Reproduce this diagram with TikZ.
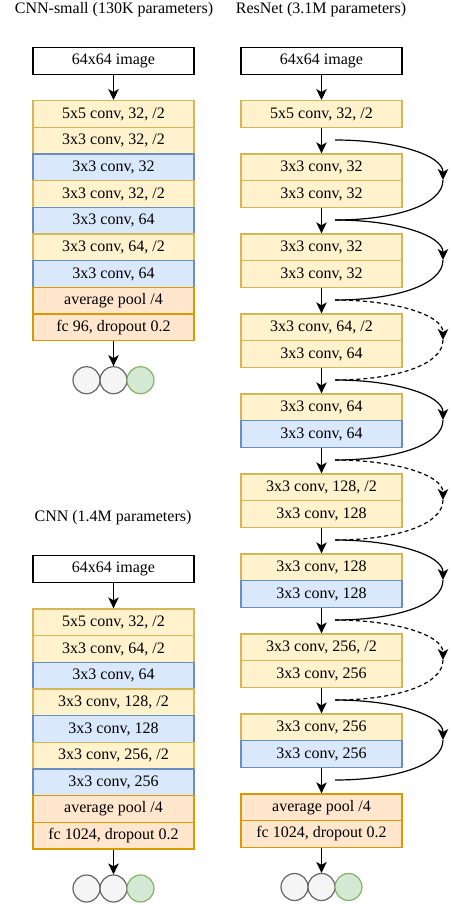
\documentclass[tikz,border=0pt]{standalone}
\usepackage{fontspec}
\setmainfont{Liberation Serif}
\usetikzlibrary{arrows.meta}
\definecolor{yfill}{HTML}{FFF2CC}\definecolor{ydraw}{HTML}{D6B656}
\definecolor{bfill}{HTML}{DAE8FC}\definecolor{bdraw}{HTML}{6C8EBF}
\definecolor{ofill}{HTML}{FFE6CC}\definecolor{odraw}{HTML}{D79B00}
\definecolor{gfill}{HTML}{F5F5F5}\definecolor{gdraw}{HTML}{666666}
\definecolor{grfill}{HTML}{D5E8D4}\definecolor{grdraw}{HTML}{82B366}
\tikzset{
  layer/.style={draw, line width=1.2pt, minimum width=161pt, minimum height=26.667pt,
    inner sep=0pt, anchor=north, font=\fontsize{16}{19}\selectfont},
  ybox/.style={layer, fill=yfill, draw=ydraw},
  bbox/.style={layer, fill=bfill, draw=bdraw},
  obox/.style={layer, fill=ofill, draw=odraw},
  ibox/.style={layer, fill=white, draw=black},
  title/.style={font=\fontsize{16}{19}\selectfont, inner sep=0pt},
  gcirc/.style={circle, draw=gdraw, fill=gfill, line width=1.2pt, minimum size=27pt, inner sep=0pt},
  grcirc/.style={circle, draw=grdraw, fill=grfill, line width=1.2pt, minimum size=27pt, inner sep=0pt},
  arr/.style={line width=1.2pt, -{Stealth[length=11pt,width=10.5pt,inset=3pt]}},
  skipline/.style={line width=1.2pt},
  skiparr/.style={line width=1.2pt, -{Stealth[length=11pt,width=10.5pt,inset=3pt]}},
  dsh/.style={dash pattern=on 4pt off 3pt},
}
\begin{document}
\begin{tikzpicture}[x=1pt,y=-1pt]
\useasboundingbox (0,0) rectangle (450,905);

% ---------- CNN-small ----------
\node[title] (t1) at (114,9.5) {CNN-small (130K parameters)};
\node[ibox] (s0) at (113.5,47) {64x64 image};
\node[ybox] (s1) at (113.5,100) {5x5 conv, 32, /2};
\node[ybox] (s2) at (113.5,126.667) {3x3 conv, 32, /2};
\node[bbox] (s3) at (113.5,153.333) {3x3 conv, 32};
\node[ybox] (s4) at (113.5,180) {3x3 conv, 32, /2};
\node[bbox] (s5) at (113.5,206.667) {3x3 conv, 64};
\node[ybox] (s6) at (113.5,233.333) {3x3 conv, 64, /2};
\node[bbox] (s7) at (113.5,260) {3x3 conv, 64};
\node[obox] (s8) at (113.5,286.667) {average pool /4};
\node[obox] (s9) at (113.5,313.333) {fc 96, dropout 0.2};
\node[gcirc] (cs1) at (86.5,380.2) {};
\node[gcirc] (cs2) at (113.5,380.2) {};
\node[grcirc] (cs3) at (140.5,380.2) {};
\draw[arr] (s0) -- (s1);
\draw[arr] (s9) -- (cs2);

% ---------- CNN ----------
\node[title] (t2) at (113,518) {CNN (1.4M parameters)};
\node[ibox] (c0) at (113.5,555) {64x64 image};
\node[ybox] (c1) at (113.5,608.333) {5x5 conv, 32, /2};
\node[ybox] (c2) at (113.5,635) {3x3 conv, 64, /2};
\node[bbox] (c3) at (113.5,661.667) {3x3 conv, 64};
\node[ybox] (c4) at (113.5,688.333) {3x3 conv, 128, /2};
\node[bbox] (c5) at (113.5,715) {3x3 conv, 128};
\node[ybox] (c6) at (113.5,741.667) {3x3 conv, 256, /2};
\node[bbox] (c7) at (113.5,768.333) {3x3 conv, 256};
\node[obox] (c8) at (113.5,795) {average pool /4};
\node[obox] (c9) at (113.5,821.667) {fc 1024, dropout 0.2};
\node[gcirc] (cc1) at (86.5,888.5) {};
\node[gcirc] (cc2) at (113.5,888.5) {};
\node[grcirc] (cc3) at (140.5,888.5) {};
\draw[arr] (c0) -- (c1);
\draw[arr] (c9) -- (cc2);

% ---------- ResNet ----------
\node[title] (t3) at (321,9.5) {ResNet (3.1M parameters)};
\node[ibox] (r0) at (321.5,47) {64x64 image};
\node[ybox] (r1) at (321.5,100) {5x5 conv, 32, /2};
\node[ybox] (r2) at (321.5,153.333) {3x3 conv, 32};
\node[ybox] (r3) at (321.5,180) {3x3 conv, 32};
\node[ybox] (r4) at (321.5,233.333) {3x3 conv, 32};
\node[ybox] (r5) at (321.5,260) {3x3 conv, 32};
\node[ybox] (r6) at (321.5,313.333) {3x3 conv, 64, /2};
\node[ybox] (r7) at (321.5,340) {3x3 conv, 64};
\node[ybox] (r8) at (321.5,393.333) {3x3 conv, 64};
\node[bbox] (r9) at (321.5,420) {3x3 conv, 64};
\node[ybox] (r10) at (321.5,473.333) {3x3 conv, 128, /2};
\node[ybox] (r11) at (321.5,500) {3x3 conv, 128};
\node[ybox] (r12) at (321.5,553.333) {3x3 conv, 128};
\node[bbox] (r13) at (321.5,580) {3x3 conv, 128};
\node[ybox] (r14) at (321.5,633.333) {3x3 conv, 256, /2};
\node[ybox] (r15) at (321.5,660) {3x3 conv, 256};
\node[ybox] (r16) at (321.5,713.333) {3x3 conv, 256};
\node[bbox] (r17) at (321.5,740) {3x3 conv, 256};
\node[obox] (r18) at (321.5,793.333) {average pool /4};
\node[obox] (r19) at (321.5,820) {fc 1024, dropout 0.2};
\node[gcirc] (cr1) at (294.5,887) {};
\node[gcirc] (cr2) at (321.5,887) {};
\node[grcirc] (cr3) at (348.5,887) {};

\draw[arr] (r0) -- (r1);
\draw[arr] (r1) -- (r2);
\draw[arr] (r3) -- (r4);
\draw[arr] (r5) -- (r6);
\draw[arr] (r7) -- (r8);
\draw[arr] (r9) -- (r10);
\draw[arr] (r11) -- (r12);
\draw[arr] (r13) -- (r14);
\draw[arr] (r15) -- (r16);
\draw[arr] (r17) -- (r18);
\draw[arr] (r19) -- (cr2);

% skip connections
\foreach \i in {0,...,8} {
  \coordinate (k\i) at (335,{140+80*\i});
}
\foreach \i in {1,...,8} {
  \coordinate (m\i) at (443,{100+80*\i});
}
\foreach \a/\b/\st in {0/1/solid,1/2/solid,2/3/dsh,3/4/solid,4/5/dsh,5/6/solid,6/7/dsh,7/8/solid} {
  \draw[skiparr,\st] (k\a) .. controls +(60,0) and +(0,-25) .. (m\b);
  \draw[skipline,\st] (m\b) .. controls +(0,25) and +(60,0) .. (k\b);
}
\end{tikzpicture}
\end{document}
